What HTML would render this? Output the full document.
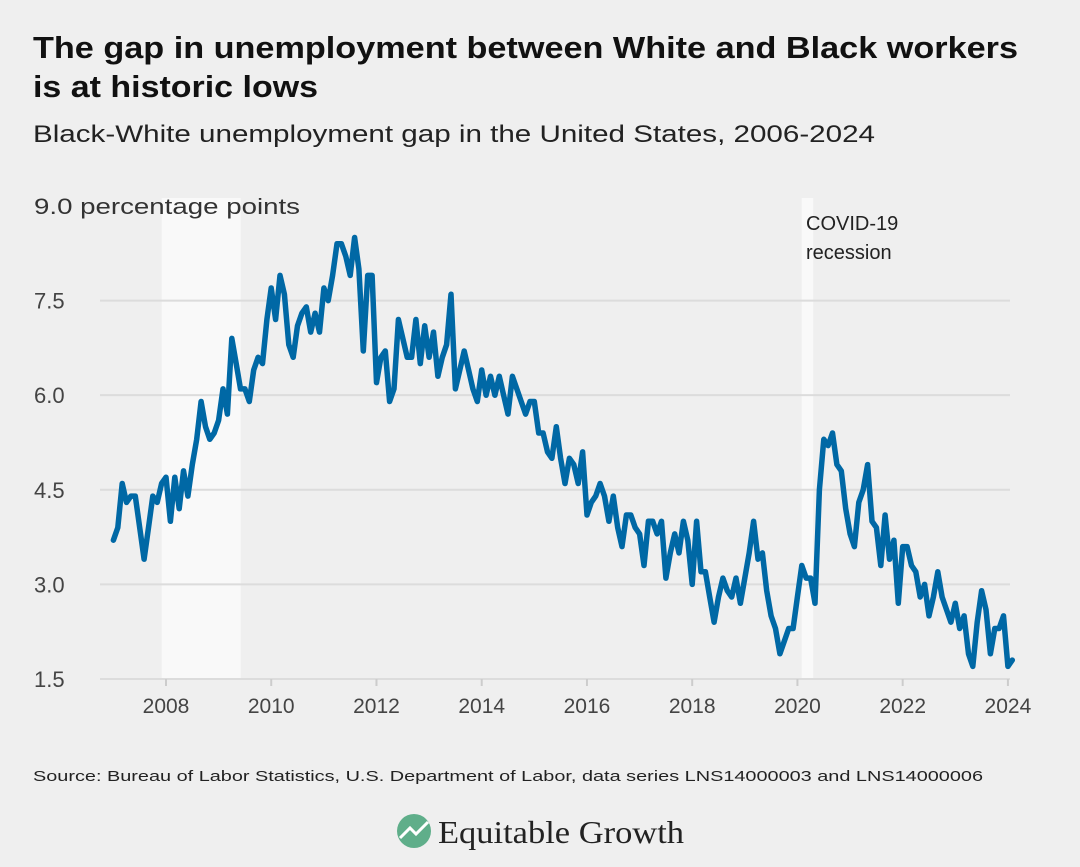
<!DOCTYPE html>
<html><head><meta charset="utf-8"><style>
html,body{margin:0;padding:0;background:#efefef;}
svg{display:block;font-family:"Liberation Sans",sans-serif;}
</style></head><body>
<svg id="chart" width="1080" height="867" viewBox="0 0 1080 867" xmlns="http://www.w3.org/2000/svg">
<rect width="1080" height="867" fill="#efefef"/>
<text x="33" y="58" font-size="31" font-weight="bold" fill="#111" textLength="985" lengthAdjust="spacingAndGlyphs">The gap in unemployment between White and Black workers</text>
<text x="33" y="97" font-size="31" font-weight="bold" fill="#111" textLength="285" lengthAdjust="spacingAndGlyphs">is at historic lows</text>
<text x="33" y="142" font-size="24" fill="#222" textLength="842" lengthAdjust="spacingAndGlyphs">Black-White unemployment gap in the United States, 2006-2024</text>
<g id="plot"></g>
<text x="33" y="781" font-size="15" fill="#222" textLength="950" lengthAdjust="spacingAndGlyphs">Source: Bureau of Labor Statistics, U.S. Department of Labor, data series LNS14000003 and LNS14000006</text>
<g>
<circle cx="414" cy="831" r="17" fill="#5fae8a"/>
<path d="M400 838 L410 828 L416 834 L428 822" stroke="#fff" stroke-width="3" fill="none"/>
<text x="438" y="843" font-family="Liberation Serif,serif" font-size="32" fill="#222" textLength="246" lengthAdjust="spacingAndGlyphs">Equitable Growth</text>
</g>
</svg>
<script>
const startYear = 2007;
const values = [
3.7,3.9,4.6,4.3,4.4,4.4,3.9,3.4,3.9,4.4,4.3,4.6,
4.7,4.0,4.7,4.2,4.8,4.4,4.9,5.3,5.9,5.5,5.3,5.4,
5.6,6.1,5.7,6.9,6.5,6.1,6.1,5.9,6.4,6.6,6.5,7.2,
7.7,7.2,7.9,7.6,6.8,6.6,7.1,7.3,7.4,7.0,7.3,7.0,
7.7,7.5,7.9,8.4,8.4,8.2,7.9,8.5,8.0,6.7,7.9,7.9,
6.2,6.6,6.7,5.9,6.1,7.2,6.9,6.6,6.6,7.2,6.5,7.1,
6.6,7.0,6.3,6.6,6.8,7.6,6.1,6.4,6.7,6.4,6.1,5.9,
6.4,6.0,6.3,6.0,6.3,6.0,5.7,6.3,6.1,5.9,5.7,5.9,
5.9,5.4,5.4,5.1,5.0,5.5,5.0,4.6,5.0,4.9,4.6,5.1,
4.1,4.3,4.4,4.6,4.4,4.0,4.4,3.9,3.6,4.1,4.1,3.9,
3.8,3.3,4.0,4.0,3.8,4.0,3.1,3.5,3.8,3.5,4.0,3.7,
3.0,4.0,3.2,3.2,2.8,2.4,2.8,3.1,2.9,2.8,3.1,2.7,
3.1,3.5,4.0,3.4,3.5,2.9,2.5,2.3,1.9,2.1,2.3,2.3,
2.8,3.3,3.1,3.1,2.7,4.5,5.3,5.2,5.4,4.9,4.8,4.2,
3.8,3.6,4.3,4.5,4.9,4.0,3.9,3.3,4.1,3.4,3.7,2.7,
3.6,3.6,3.3,3.2,2.8,3.0,2.5,2.8,3.2,2.8,2.6,2.4,
2.7,2.3,2.5,1.9,1.7,2.4,2.9,2.6,1.9,2.3,2.3,2.5,
1.7,1.8];
const yTicks = [1.5,3.0,4.5,6.0,7.5,9.0];
const yTickLabels = ["1.5","3.0","4.5","6.0","7.5","9.0 percentage points"];
const xTicks = [2008,2010,2012,2014,2016,2018,2020,2022,2024];
const recessions = [[2007.92,2009.42],[2020.08,2020.3]];

const NS="http://www.w3.org/2000/svg";
const g=document.getElementById('plot');
const X=t=>166+(t-2008)*52.62;
const Y=v=>679-(v-1.5)*63.07;
function mk(tag,attrs){const e=document.createElementNS(NS,tag);for(const k in attrs)e.setAttribute(k,attrs[k]);g.appendChild(e);return e;}
recessions.forEach(r=>{
  const e=mk('rect',{x:X(r[0]),y:Y(9.0)-8,width:X(r[1])-X(r[0]),height:679-Y(9.0)+8,fill:'#f9f9f9'});
  
  
});
yTicks.forEach((v,i)=>{
  if(i>0&&i<yTicks.length-1){const l=mk('line',{x1:100,x2:1010,y1:Y(v),y2:Y(v),stroke:'#dcdcdc','stroke-width':2});
  
  }
  const t=mk('text',{x:34,y:Y(v)+8,'font-size':22,fill:'#444'});
  t.textContent=yTickLabels[i];
  if(i===yTicks.length-1){t.setAttribute('textLength',266);t.setAttribute('lengthAdjust','spacingAndGlyphs');t.setAttribute('fill','#333');}
  
  
});
const ax=mk('line',{x1:100,x2:1010,y1:679,y2:679,stroke:'#dcdcdc','stroke-width':2});


xTicks.forEach(yr=>{
  const tk=mk('line',{x1:X(yr),x2:X(yr),y1:679,y2:686,stroke:'#ccc','stroke-width':2});
  
  
  const t=mk('text',{x:X(yr),y:713,'font-size':21,fill:'#444','text-anchor':'middle'});
  t.textContent=yr;
  
  
});
const c1=mk('text',{x:806,y:230,'font-size':20,fill:'#222'});c1.textContent='COVID-19';


const c2=mk('text',{x:806,y:259,'font-size':20,fill:'#222'});c2.textContent='recession';


const pts=values.map((v,i)=>X(startYear+i/12).toFixed(1)+','+Y(v).toFixed(1)).join(' ');
const line=mk('polyline',{points:pts,fill:'none',stroke:'#0068a5','stroke-width':5.5,'stroke-linejoin':'round','stroke-linecap':'round'});


</script>
</body></html>
